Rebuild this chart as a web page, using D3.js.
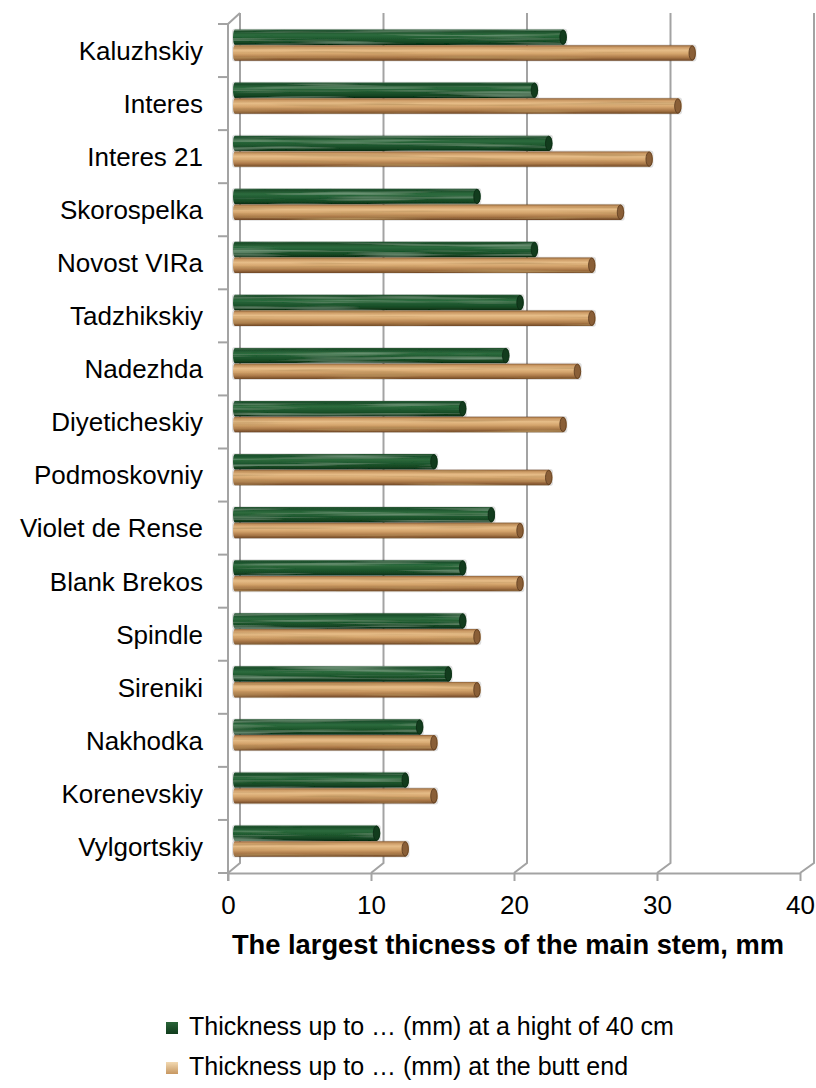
<!DOCTYPE html>
<html>
<head>
<meta charset="utf-8">
<script src="https://cdn.jsdelivr.net/npm/d3@7/dist/d3.min.js"></script>
<style>
  html, body { margin: 0; padding: 0; background: #ffffff; }
  svg { display: block; font-family: Arial, "Liberation Sans", sans-serif; }
</style>
</head>
<body>
<svg id="chart" width="816" height="1088"></svg>
<script>
// Varieties, top to bottom
const categories = [
  "Kaluzhskiy", "Interes", "Interes 21", "Skorospelka", "Novost VIRa",
  "Tadzhikskiy", "Nadezhda", "Diyeticheskiy", "Podmoskovniy", "Violet de Rense",
  "Blank Brekos", "Spindle", "Sireniki", "Nakhodka", "Korenevskiy", "Vylgortskiy"
];
// Thickness (mm) at a height of 40 cm
const heightThickness = [23, 21, 22, 17, 21, 20, 19, 16, 14, 18, 16, 16, 15, 13, 12, 10];
// Thickness (mm) at the butt end
const buttThickness   = [32, 31, 29, 27, 25, 25, 24, 23, 22, 20, 20, 17, 17, 14, 14, 12];
const xTicks = [0, 10, 20, 30, 40];
const seriesNames = [
  "Thickness up to \u2026 (mm) at a hight of 40 cm",
  "Thickness up to \u2026 (mm) at the butt end"
];
const axisTitle = "The largest thicness of the main stem, mm";

const svg = d3.select("#chart");
const gridColor = "#a3a3a3";

// 3D box geometry: front plane, back wall, and the plane the bars sit in
const xFront = d3.scaleLinear().domain([0, 40]).range([228, 800]);
const xBack  = d3.scaleLinear().domain([0, 40]).range([240, 814]);
const xBar   = d3.scaleLinear().domain([0, 40]).range([233, 807]);
const floorFront = 873, floorBack = 863, topFront = 24, topBack = 13;

const y = d3.scaleBand().domain(categories).range([topFront, floorFront]).padding(0);
const sub = d3.scaleBand().domain([0, 1]).range([5.5, 37]).padding(0);

// ---------- defs: cylinder shading and grain ----------
const defs = svg.append("defs");

function vGrad(id, stops) {
  const g = defs.append("linearGradient").attr("id", id)
    .attr("x1", 0).attr("y1", 0).attr("x2", 0).attr("y2", 1);
  stops.forEach(([o, c]) => g.append("stop").attr("offset", o).attr("stop-color", c));
}
vGrad("greenCyl", [[0, "#2a5a36"], [0.12, "#1c4f2b"], [0.35, "#2d6b3d"], [0.55, "#215c31"], [0.8, "#174a25"], [1, "#0b2e15"]]);
vGrad("woodCyl",  [[0, "#8c6038"], [0.12, "#c99762"], [0.32, "#e6bd88"], [0.55, "#d4a46c"], [0.8, "#a87646"], [1, "#6e4726"]]);
vGrad("greenKey", [[0, "#2a6438"], [1, "#103b1c"]]);
vGrad("woodKey",  [[0, "#f2d9b2"], [1, "#c79761"]]);

function grainFilter(id, seed, rgb, strength) {
  const f = defs.append("filter").attr("id", id)
    .attr("x", 0).attr("y", 0).attr("width", 1).attr("height", 1)
    .attr("filterUnits", "objectBoundingBox");
  f.append("feTurbulence").attr("type", "fractalNoise")
    .attr("baseFrequency", "0.007 0.3").attr("numOctaves", 2).attr("seed", seed).attr("result", "noise");
  f.append("feColorMatrix").attr("in", "noise").attr("type", "matrix")
    .attr("values", `0 0 0 0 ${rgb[0]}  0 0 0 0 ${rgb[1]}  0 0 0 0 ${rgb[2]}  0 0 0 ${strength} ${-strength * 0.5}`)
    .attr("result", "streaks");
  f.append("feComposite").attr("in", "streaks").attr("in2", "SourceGraphic").attr("operator", "in").attr("result", "clipped");
  const m = f.append("feMerge");
  m.append("feMergeNode").attr("in", "SourceGraphic");
  m.append("feMergeNode").attr("in", "clipped");
}
grainFilter("woodGrain", 4, [0.45, 0.27, 0.1], 2.4);
grainFilter("greenGrain", 7, [0.3, 0.5, 0.34], 1.4);

// ---------- back wall gridlines and floor edges ----------
const grid = svg.append("g").attr("stroke", gridColor).attr("stroke-width", 2).attr("fill", "none");
grid.selectAll("path.gridline").data(xTicks).join("path")
  .attr("class", "gridline")
  .attr("d", v => `M${xBack(v)},${topBack} L${xBack(v)},${floorBack} L${xFront(v)},${floorFront}`);

// left side wall: front edge with the top bevel
grid.append("path")
  .attr("d", `M${xBack(0)},${topBack} L${xFront(0)},${topFront} L${xFront(0)},${floorFront + 8}`);

// category boundary ticks
grid.selectAll("line.ctick").data(d3.range(categories.length + 1)).join("line")
  .attr("class", "ctick")
  .attr("x1", xFront(0) - 10).attr("x2", xFront(0))
  .attr("y1", i => topFront + i * y.bandwidth())
  .attr("y2", i => topFront + i * y.bandwidth());

// ---------- cylinders ----------
const rows = categories.map((c, i) => ({ c, vals: [heightThickness[i], buttThickness[i]] }));
const barG = svg.append("g");

const fills = [
  { body: "url(#greenCyl)", grain: "url(#greenGrain)", cap: "#123c1d", capEdge: "#0b2a13" },
  { body: "url(#woodCyl)",  grain: "url(#woodGrain)",  cap: "#8a5f37", capEdge: "#5a3a1e" }
];

rows.forEach(r => {
  r.vals.forEach((v, s) => {
    const top = y(r.c) + sub(s);
    const h = sub.bandwidth() - 0.3;
    const x0 = xBar(0), x1 = xBar(v);
    const rx = 3.8, ry = h / 2;
    const g = barG.append("g");
    // soft shadow outline
    g.append("rect")
      .attr("x", x0 - 1).attr("y", top - 0.8)
      .attr("width", x1 - x0 + rx + 1.5).attr("height", h + 1.6)
      .attr("rx", 3).attr("fill", "#000").attr("opacity", 0.13);
    // body
    g.append("path")
      .attr("d", `M${x0 + 2},${top} L${x1},${top} A${rx},${ry} 0 0 1 ${x1},${top + h} L${x0 + 2},${top + h} A2,${ry} 0 0 1 ${x0 + 2},${top} Z`)
      .attr("fill", fills[s].body)
      .attr("filter", fills[s].grain);
    // end face
    g.append("ellipse")
      .attr("cx", x1).attr("cy", top + ry)
      .attr("rx", rx - 0.6).attr("ry", ry - 0.6)
      .attr("fill", fills[s].cap)
      .attr("stroke", fills[s].capEdge).attr("stroke-width", 0.8);
  });
});

// ---------- front floor edge with value axis ----------
const xAxis = d3.axisBottom(xFront).tickValues(xTicks).tickSize(8).tickSizeOuter(0).tickPadding(14.5);
const ax = svg.append("g").attr("transform", `translate(0,${floorFront})`).call(xAxis);
ax.select(".domain").attr("stroke", gridColor).attr("stroke-width", 2);
ax.selectAll(".tick line").attr("stroke", gridColor).attr("stroke-width", 2);
ax.selectAll(".tick text").attr("fill", "#000").style("font-size", "26px")
  .style("font-family", "Arial, 'Liberation Sans', sans-serif");

// category labels
svg.append("g").selectAll("text").data(categories).join("text")
  .attr("x", 203)
  .attr("y", d => y(d) + y.bandwidth() / 2)
  .attr("dy", "0.36em")
  .attr("text-anchor", "end")
  .attr("fill", "#000")
  .style("font-size", "26px")
  .text(d => d);

// axis title
svg.append("text")
  .attr("x", 508).attr("y", 954)
  .attr("text-anchor", "middle")
  .attr("fill", "#000")
  .style("font-size", "27.3px").style("font-weight", "bold")
  .text(axisTitle);

// ---------- legend ----------
const legend = svg.append("g");
const keyFills = ["url(#greenKey)", "url(#woodKey)"];
seriesNames.forEach((name, i) => {
  const ly = 1035 + i * 40;
  legend.append("rect")
    .attr("x", 166).attr("y", ly - 13).attr("width", 12).attr("height", 12)
    .attr("fill", keyFills[i]);
  legend.append("text")
    .attr("x", 189).attr("y", ly)
    .attr("fill", "#000")
    .style("font-size", "25px")
    .text(name);
});
</script>
</body>
</html>
